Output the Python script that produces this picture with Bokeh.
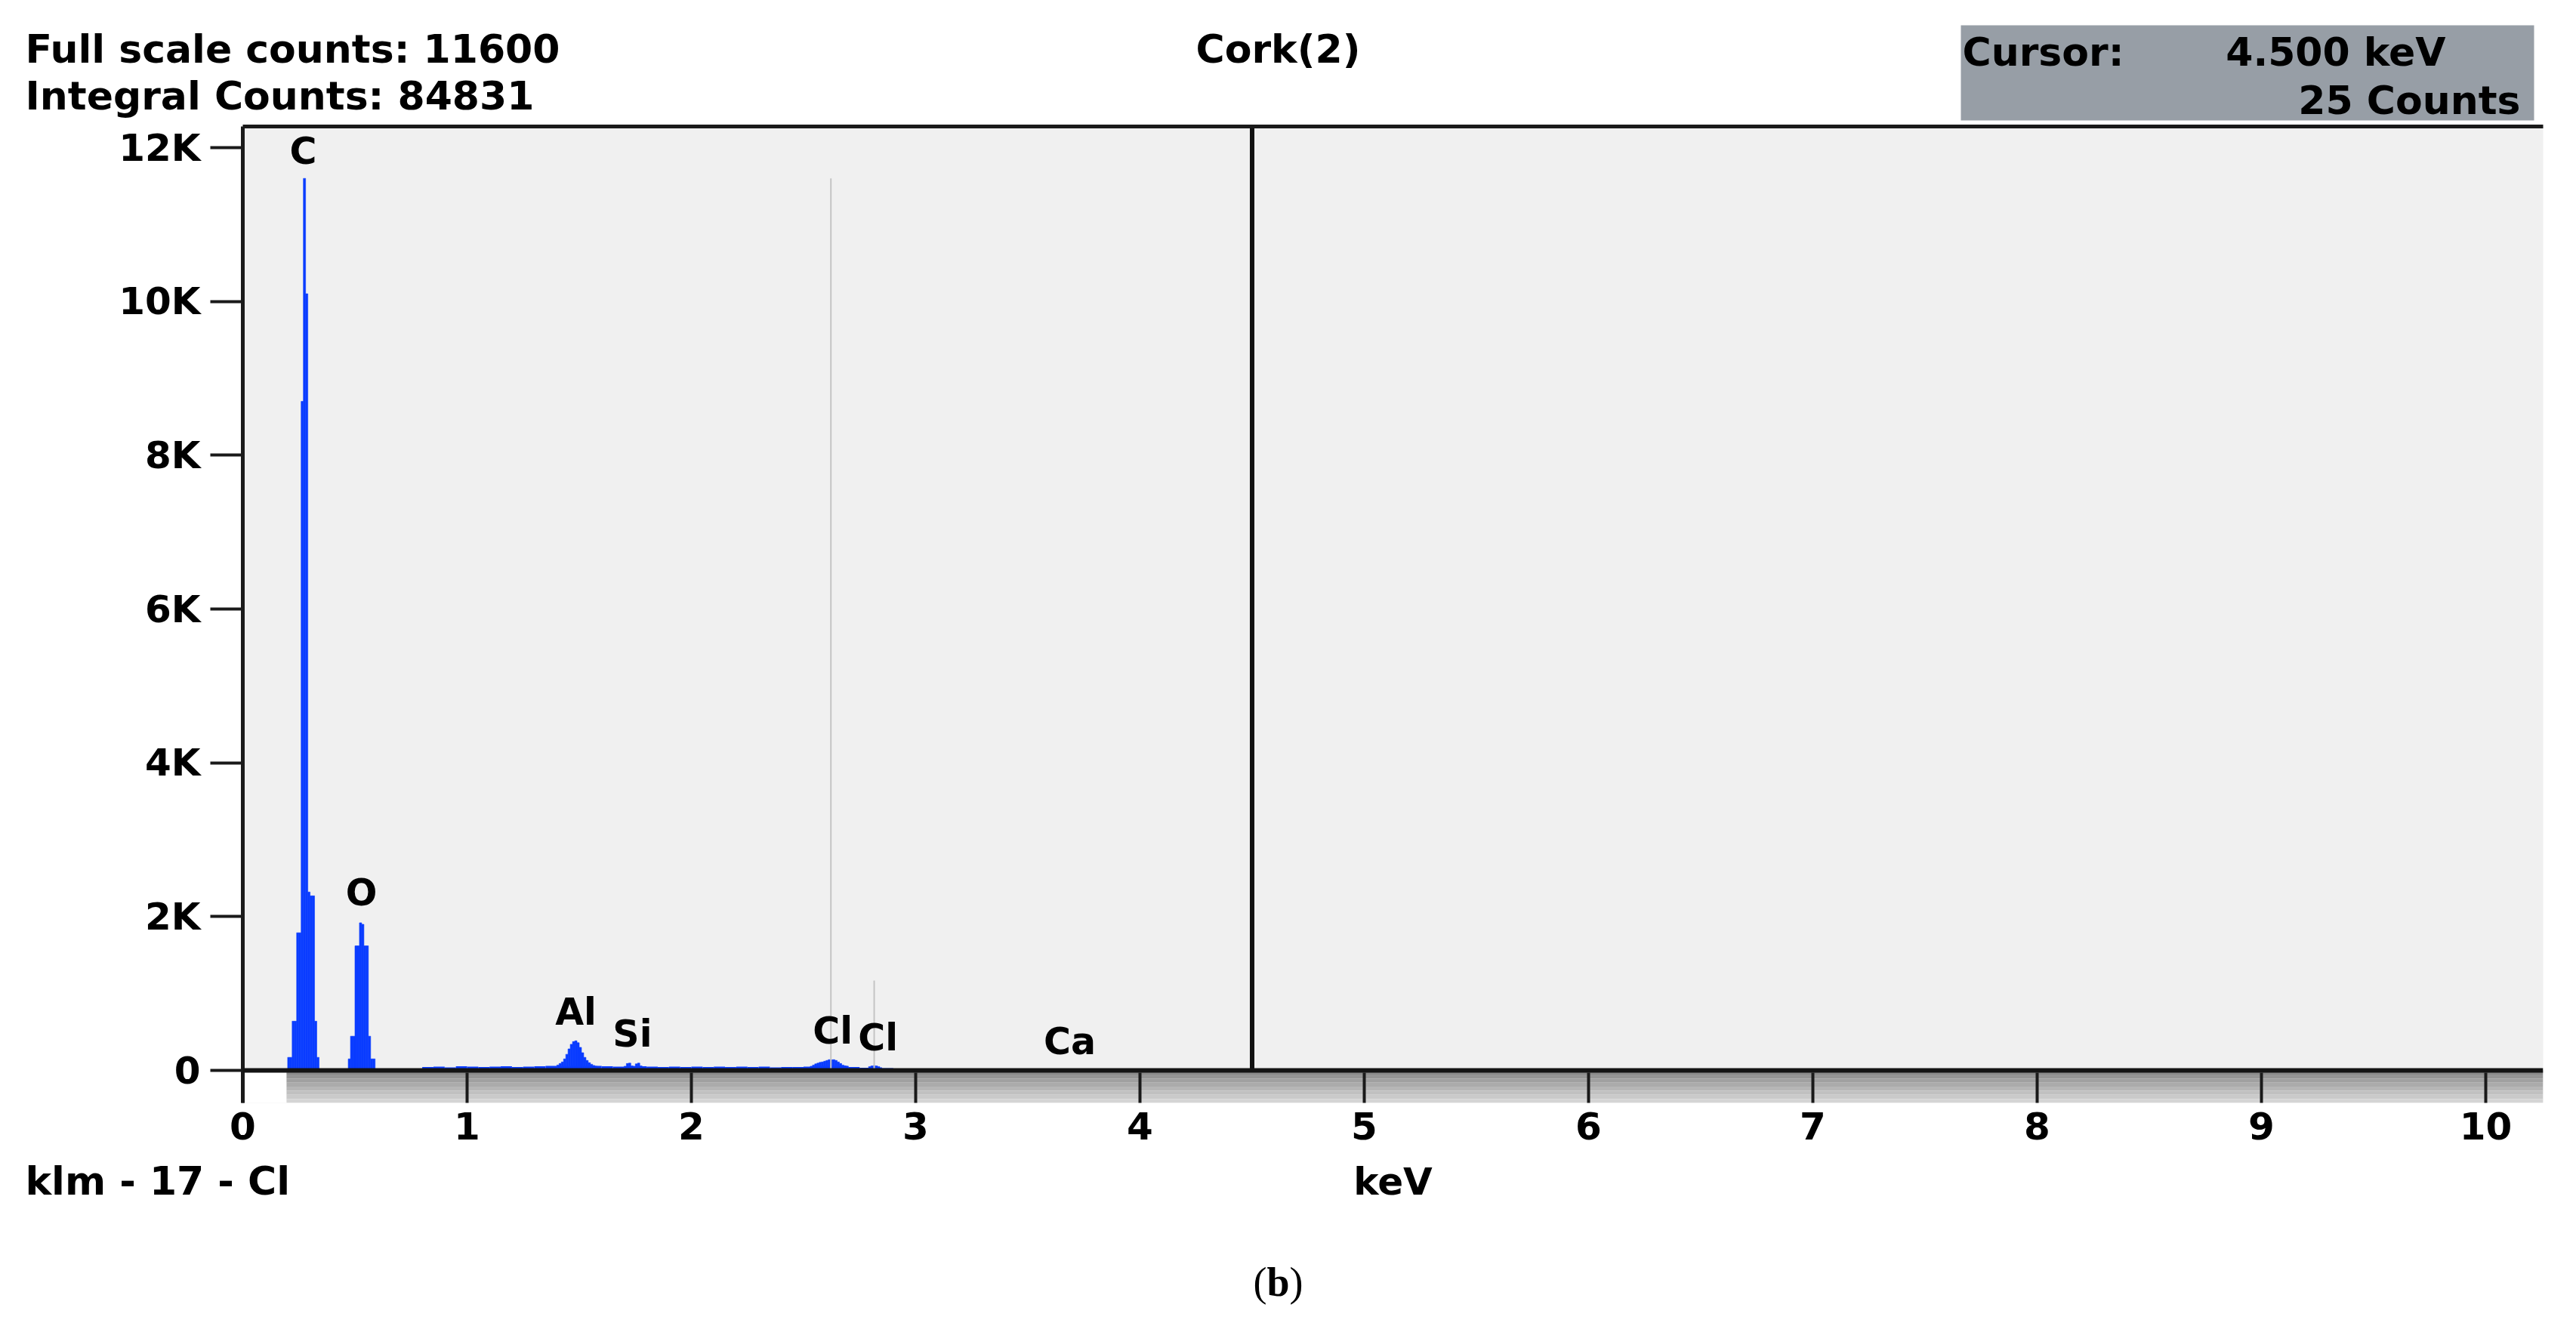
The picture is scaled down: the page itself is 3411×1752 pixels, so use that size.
from bokeh.plotting import figure
from bokeh.models import Range1d, LinearAxis, FixedTicker, Span
from bokeh.embed import file_html
from bokeh.resources import INLINE
from bokeh.core.properties import value
import numpy as np

# ---------------- data ----------------
channel_kev = 0.01
c_energy = [0.205, 0.215, 0.225, 0.235, 0.245, 0.255, 0.265, 0.275, 0.285, 0.295, 0.305, 0.315, 0.325, 0.335]
c_counts = [170, 170, 640, 640, 1790, 1790, 8700, 11600, 10100, 2320, 2270, 2270, 640, 170]

o_energy = [0.475, 0.485, 0.495, 0.505, 0.515, 0.525, 0.535, 0.545, 0.555, 0.565, 0.575, 0.585]
o_counts = [150, 445, 445, 1620, 1620, 1920, 1900, 1620, 1620, 445, 150, 150]

al_energy = [1.405, 1.415, 1.425, 1.435, 1.445, 1.455, 1.465, 1.475, 1.485, 1.495, 1.505, 1.515,
             1.525, 1.535, 1.545, 1.555, 1.565, 1.575]
al_counts = [70, 90, 110, 150, 210, 280, 340, 375, 385, 360, 300, 230, 170, 130, 100, 80, 65, 55]

si_energy = [1.705, 1.715, 1.725, 1.735, 1.745, 1.755, 1.765, 1.775]
si_counts = [55, 90, 95, 60, 55, 85, 95, 60]

cl_energy = [2.535, 2.545, 2.555, 2.565, 2.575, 2.585, 2.595, 2.605, 2.615, 2.625, 2.635, 2.645,
             2.655, 2.665, 2.675, 2.685, 2.695, 2.795, 2.805, 2.815, 2.825, 2.835]
cl_counts = [55, 70, 85, 95, 105, 110, 120, 130, 140, 138, 140, 130, 110, 90, 70, 60, 50,
             50, 58, 62, 58, 50]

bg_width_kev = 0.05
bg_energy = [0.825, 0.875, 0.925, 0.975, 1.025, 1.075, 1.125, 1.175, 1.225, 1.275, 1.325, 1.375,
             1.425, 1.475, 1.525, 1.575, 1.625, 1.675, 1.725, 1.775, 1.825, 1.875, 1.925, 1.975,
             2.025, 2.075, 2.125, 2.175, 2.225, 2.275, 2.325, 2.375, 2.425, 2.475, 2.525, 2.575,
             2.625, 2.675, 2.725, 2.775, 2.825, 2.875]
bg_counts = [45, 50, 40, 55, 50, 45, 50, 55, 45, 50, 55, 60, 60, 60, 60, 60, 55, 50, 55, 55,
             50, 45, 50, 45, 50, 45, 50, 45, 50, 45, 50, 40, 45, 45, 50, 60, 60, 60, 45, 35, 40, 30]

elements = ["C", "O", "Al", "Si", "Cl", "Cl", "Ca"]
element_kev = [0.269, 0.529, 1.485, 1.737, 2.630, 2.832, 3.687]
element_label_counts = [11774, 2131, 579, 295, 334, 246, 200]

klm_kev = [2.622, 2.815]
klm_counts = [11600, 1170]

cursor_kev = 4.5
cursor_counts = 25
full_scale_counts = 11600
integral_counts = 84831
sample_name = "Cork(2)"
klm_text = "klm - 17 - Cl"
x_title = "keV"

x_ticks = [0, 1, 2, 3, 4, 5, 6, 7, 8, 9, 10]
y_ticks = [0, 2000, 4000, 6000, 8000, 10000, 12000]
y_tick_labels = ["0", "2K", "4K", "6K", "8K", "10K", "12K"]

# ---------------- layout (page pixels) ----------------
W = 3395
HEADER_H = 164
FRAME_L, FRAME_T, FRAME_R, FRAME_B = 321, 167, 3367, 1460
MAIN_BOTTOM = 1532
PAGE_H = 1736
X_MAX = 10.256
Y_MAX = 12275
Y_MIN = -422
FONT = "DejaVu Sans"
BLUE = "#0a3cff"
BASELINE_FIX = 0.36   # svg baseline correction, in em


def blank(top, bottom):
    f = figure(width=W, height=bottom - top, output_backend="svg", toolbar_location=None,
               title=None, x_range=Range1d(0, W), y_range=Range1d(bottom, top),
               x_axis_location=None, y_axis_location=None,
               min_border=0, min_border_left=0, min_border_right=0,
               min_border_top=0, min_border_bottom=0,
               outline_line_color=None, background_fill_color="white", border_fill_color="white")
    f.xgrid.visible = False
    f.ygrid.visible = False
    return f


def txt(f, s, x, y, align="left", size=52, style="bold", font=FONT):
    f.text(x=[x], y=[y], text=[s], text_align=align, text_baseline="alphabetic",
           y_offset=-round(BASELINE_FIX * size),
           text_font=value(font), text_font_style=style, text_font_size=f"{size}px",
           text_color="black")


# ---------- header ----------
header = blank(0, HEADER_H)
txt(header, f"Full scale counts: {full_scale_counts}", 33, 83)
txt(header, f"Integral Counts: {integral_counts}", 33, 145)
txt(header, sample_name, 1692, 83, align="center")
header.quad(left=[2596], right=[3355], top=[33], bottom=[159], fill_color="#979ea6", line_color=None)
txt(header, "Cursor:", 2598, 87)
txt(header, f"{cursor_kev:.3f} keV", 3238, 87, align="right")
txt(header, f"{cursor_counts} Counts", 3337, 151, align="right")

# ---------- main plot ----------
p = figure(width=W, height=MAIN_BOTTOM - HEADER_H, output_backend="svg", toolbar_location=None,
           title=None, x_range=Range1d(0, X_MAX), y_range=Range1d(Y_MIN, Y_MAX),
           min_border_left=FRAME_L, min_border_right=W - FRAME_R,
           min_border_top=FRAME_T - HEADER_H, min_border_bottom=MAIN_BOTTOM - FRAME_B,
           background_fill_color="#f0f0f0", border_fill_color="white", outline_line_color=None)
p.xgrid.visible = False
p.ygrid.visible = False

p.quad(left=[0], right=[X_MAX], bottom=[Y_MIN], top=[0], fill_color="white", line_color=None)
band_colors = ["#8a8a8a", "#959595", "#a0a0a0", "#ababab", "#b6b6b6", "#c0c0c0", "#cacaca", "#d4d4d4"]
edges = np.linspace(0, Y_MIN, len(band_colors) + 1)
p.quad(left=[0.195] * len(band_colors), right=[X_MAX] * len(band_colors),
       top=edges[:-1], bottom=edges[1:], fill_color=band_colors, line_color=None)

p.vbar(x=bg_energy, width=bg_width_kev, top=bg_counts, bottom=0, fill_color=BLUE, line_color=None)
for e, c in [(c_energy, c_counts), (o_energy, o_counts), (al_energy, al_counts),
             (si_energy, si_counts), (cl_energy, cl_counts)]:
    p.vbar(x=e, width=channel_kev, top=c, bottom=0, fill_color=BLUE, line_color=BLUE, line_width=0.6)

p.segment(x0=klm_kev, y0=[0, 0], x1=klm_kev, y1=klm_counts, line_color="#c4c4c4", line_width=2)
p.segment(x0=[cursor_kev], y0=[0], x1=[cursor_kev], y1=[Y_MAX], line_color="#111111", line_width=6)
p.add_layout(Span(location=0, dimension="width", line_color="#141414", line_width=6))

p.text(x=element_kev, y=element_label_counts, text=elements, text_align="center",
       text_baseline="alphabetic", y_offset=-round(BASELINE_FIX * 49),
       text_font=value(FONT), text_font_style="bold",
       text_font_size="49px", text_color="black")

xa = p.xaxis[0]
xa.ticker = FixedTicker(ticks=x_ticks)
xa.axis_line_color = None
xa.major_tick_in = 40
xa.major_tick_out = 0
xa.major_tick_line_width = 4
xa.major_tick_line_color = "#1a1a1a"
xa.minor_tick_line_color = None
xa.major_label_text_font = FONT
xa.major_label_text_font_style = "bold"
xa.major_label_text_font_size = "50px"
xa.major_label_text_color = "black"
xa.major_label_standoff = 12

ya = p.yaxis[0]
ya.ticker = FixedTicker(ticks=y_ticks)
ya.major_label_overrides = {t: l for t, l in zip(y_ticks, y_tick_labels)}
ya.axis_line_width = 5
ya.axis_line_color = "#1a1a1a"
ya.major_tick_in = 0
ya.major_tick_out = 43
ya.major_tick_line_width = 4
ya.major_tick_line_color = "#1a1a1a"
ya.minor_tick_line_color = None
ya.major_label_text_font = FONT
ya.major_label_text_font_style = "bold"
ya.major_label_text_font_size = "50px"
ya.major_label_text_color = "black"
ya.major_label_standoff = 13

top_axis = LinearAxis(ticker=FixedTicker(ticks=[]), axis_line_width=5, axis_line_color="#1a1a1a",
                      major_tick_line_color=None, minor_tick_line_color=None,
                      major_tick_in=0, major_tick_out=0, major_label_standoff=0,
                      major_label_text_font_size="0px")
p.add_layout(top_axis, "above")

# ---------- footer ----------
footer = blank(MAIN_BOTTOM, PAGE_H)
txt(footer, klm_text, 33, 1582, size=52)
txt(footer, x_title, (FRAME_L + FRAME_R) / 2, 1582, align="center", size=50)
txt(footer, "(", 1659, 1716, size=54, style="normal", font="Liberation Serif")
txt(footer, "b", 1677, 1716, size=54, style="bold", font="Liberation Serif")
txt(footer, ")", 1707, 1716, size=54, style="normal", font="Liberation Serif")

open("out.html", "w").write(file_html([header, p, footer], INLINE))
